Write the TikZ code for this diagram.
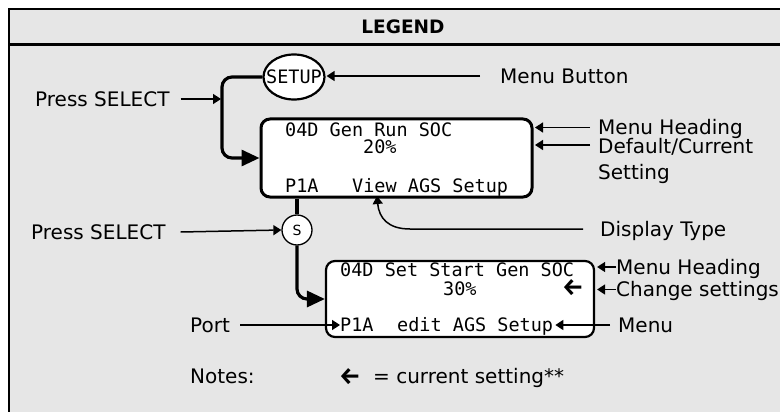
\documentclass[tikz,border=0pt]{standalone}
\usepackage{fontspec}
\setmainfont{DejaVu Sans}
\newfontfamily\monofont{DejaVu Sans Mono}
\newfontfamily\arrowfont{Fira Sans}
\usetikzlibrary{arrows.meta,shapes.geometric,calc}
\definecolor{bg}{HTML}{E6E6E6}
\begin{document}
\begin{tikzpicture}[x=1pt,y=-1pt,
  lbl/.style={inner sep=0pt, anchor=west, font=\fontsize{20}{22}\selectfont, text height=14.6pt, text depth=0pt},
  arrowlbl/.style={inner sep=0pt, anchor=west, font=\arrowfont\bfseries\fontsize{24}{26}\selectfont},
  mono/.style={inner sep=0pt, anchor=west, font=\monofont\fontsize{18.5}{20}\selectfont, text height=13.5pt, text depth=0pt},
  thinarrow/.style={line width=1.5pt, -{Triangle[length=8pt,width=10pt]}},
  thickline/.style={line width=3.2pt, rounded corners=10pt},
  thickarrow/.style={thickline, -{Triangle[length=18pt,width=16pt]}},
  screen/.style={draw, fill=white, rounded corners=9pt, inner sep=0pt},
]
\useasboundingbox (0,0) rectangle (780,412);
\clip (0,0) rectangle (780,412);
\fill[white] (0,0) rectangle (780,412);
\filldraw[fill=bg, line width=2.2pt] (9,9) rectangle (800,430);
\draw[line width=3pt] (9,44.5) -- (800,44.5);

% title
\node[inner sep=0pt, font=\bfseries\fontsize{18.5}{20}\selectfont, text height=13.5pt, text depth=0pt] (title) at (403,27) {LEGEND};

% menu button
\node[draw, ellipse, fill=white, line width=2.2pt, minimum width=61pt, minimum height=45pt, inner sep=0pt] (setup) at (294,77) {};
\node[mono, anchor=center] (setuptxt) at (setup.center) {SETUP};

% screens
\node[screen, line width=3pt, minimum width=271pt, minimum height=78pt] (scr1) at (396.5,158) {};
\node[screen, line width=2.2pt, minimum width=268pt, minimum height=76pt] (scr2) at (460,299) {};

% screen 1 text
\node[mono] (s1a) at (285,129.5) {04D Gen Run SOC};
\node[mono] (s1b) at (363,147) {20\%};
\node[mono] (s1c) at (285,186) {P1A};
\node[mono] (s1d) at (352,186) {View AGS Setup};

% screen 2 text
\node[mono] (s2a) at (340,270) {04D Set Start Gen SOC};
\node[mono] (s2b) at (443,288.5) {30\%};
\node[arrowlbl] (s2arr) at (562,288) {←};
\node[mono] (s2c) at (340,325) {P1A};
\node[mono] (s2d) at (397,325) {edit AGS Setup};

% select circle
\node[circle, draw, fill=white, line width=1.3pt, minimum size=30pt, inner sep=0pt, font=\fontsize{14}{16}\selectfont] (s) at (297,230) {S};

% labels
\node[lbl] (ps1) at (35,99) {Press SELECT};
\node[lbl] (mb) at (500,76) {Menu Button};
\node[lbl] (mh1) at (598,127.5) {Menu Heading};
\node[lbl] (dc) at (598,146.5) {Default/Current};
\node[lbl] (st) at (598,172) {Setting};
\node[lbl] (dt) at (600,229) {Display Type};
\node[lbl] (ps2) at (31,232) {Press SELECT};
\node[lbl] (mh2) at (616,267) {Menu Heading};
\node[lbl] (cs) at (616,289.5) {Change settings};
\node[lbl] (mn) at (618,325) {Menu};
\node[lbl] (port) at (190,325) {Port};
\node[lbl] (notes) at (190,376) {Notes:};
\node[arrowlbl] (narr) at (339,377) {←};
\node[lbl] (cur) at (373,376) {= current setting**};

% coordinates
\coordinate (bendA) at (222,0);
\coordinate (dtbend) at (410,229);
\coordinate (dtip) at (377,196);

% thick connectors
\draw[thickarrow] (setup.west) -- (setup.west -| bendA) -- (scr1.west -| bendA) -- (scr1.west);
\draw[thickline] (scr1.south -| s) -- (s.north);
\draw[thickarrow] (s.south) -- (s.south |- scr2.west) -- (scr2.west);

% thin arrows
\draw[thinarrow] ([xshift=11pt]ps1.east) -- ([xshift=-1pt]ps1.east -| bendA);
\draw[thinarrow] ([xshift=15pt]ps2.east) -- (s.west);
\draw[thinarrow] ([xshift=-20pt]mb.west) -- ([xshift=1pt]setup.east |- mb.west);
\draw[thinarrow] ([xshift=-8pt]mh1.west) -- ([xshift=1.5pt]mh1.west -| scr1.east);
\draw[thinarrow] ([xshift=-8pt,yshift=1.5pt]dc.west) -- ([xshift=1.5pt,yshift=1.5pt]dc.west -| scr1.east);
\draw[thinarrow] ([xshift=-17pt]dt.west) -- (dtbend) .. controls (388,229) and (379,218) .. (dtip);
\draw[thinarrow] (mh2.west) -- ([xshift=2pt]mh2.west -| scr2.east);
\draw[thinarrow] (cs.west) -- ([xshift=2pt]cs.west -| scr2.east);
\draw[thinarrow] ([xshift=-8pt]mn.west) -- ([xshift=2pt]s2d.east);
\draw[thinarrow] ([xshift=10pt]port.east) -- (s2c.west);
\end{tikzpicture}
\end{document}
